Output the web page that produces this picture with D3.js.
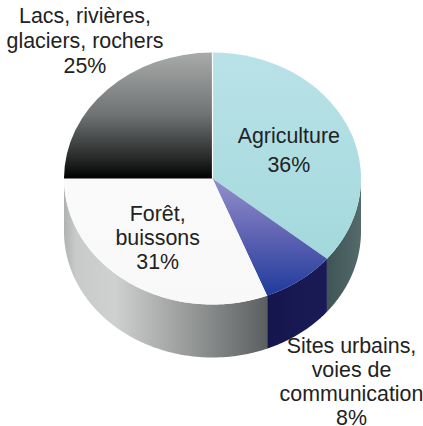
<!DOCTYPE html>
<html lang="fr">
<head>
<meta charset="utf-8">
<script src="https://cdn.jsdelivr.net/npm/d3@7"></script>
<style>
    body { margin: 0; background: #fff; }
    text { font-family: "Liberation Sans", Arial, sans-serif; font-size: 21.4px; fill: #222; text-anchor: middle; }
</style>
<title>Occupation des sols</title>
</head>
<body>
<svg id="plot" width="423" height="426"></svg>
<script>
// values, clockwise from the top
const categories = ["Agriculture", "Sites urbains, voies de communication", "Forêt, buissons", "Lacs, rivières, glaciers, rochers"]
const shares = [36, 8, 31, 25]

// label lines per category
const labelLines = [
    ["Agriculture", "36%"],
    ["Sites urbains,", "voies de", "communication", "8%"],
    ["Forêt,", "buissons", "31%"],
    ["Lacs, rivières,", "glaciers, rochers", "25%"]
]

const cx = 212.5, cy = 178.5, rx = 148.5, ry = 126, depth = 53
const svg = d3.select("#plot")
const defs = svg.append("defs")

function gradient(id, horizontal, stops) {
    const g = defs.append("linearGradient").attr("id", id)
        .attr("x1", 0).attr("y1", 0)
        .attr("x2", horizontal ? 1 : 0).attr("y2", horizontal ? 0 : 1)
    stops.forEach(s => g.append("stop").attr("offset", s[0]).attr("stop-color", s[1]))
}

// top faces
gradient("top0", false, [[0, "#b9e2e8"], [1, "#a3d9dc"]])
gradient("top1", false, [[0, "#9290cc"], [0.45, "#6366b4"], [1, "#1f3a9c"]])
gradient("top2", false, [[0, "#fafafa"], [1, "#f8f8f8"]])
gradient("top3", false, [[0, "#a9abab"], [0.5, "#6f7272"], [0.85, "#252727"], [1, "#000"]])
// side faces
gradient("side2", true, [[0, "#b0b1b1"], [0.06, "#c9caca"], [0.25, "#cfd0d0"], [0.6, "#9a9c9c"], [1, "#5c5f5f"]])
gradient("side1", true, [[0, "#16164e"], [1, "#1a1a56"]])
gradient("side0", true, [[0, "#3f5555"], [1, "#556a6a"]])

const pie = d3.pie().sort(null)
const slices = pie(shares)

const px = a => cx + rx * Math.sin(a)
const py = a => cy - ry * Math.cos(a)

// side wall, only for the front half of the disc
const wall = d3.area()
    .x(a => px(a))
    .y0(a => py(a))
    .y1(a => py(a) + depth)

slices.forEach((s, i) => {
    const a0 = Math.max(s.startAngle, Math.PI / 2)
    const a1 = Math.min(s.endAngle, 3 * Math.PI / 2)
    if (a1 <= a0) return
    const steps = d3.range(a0, a1, 0.01).concat([a1])
    svg.append("path")
        .attr("d", wall(steps))
        .attr("fill", "url(#side" + i + ")")
})

// top of the disc: unit circle pie squashed into an ellipse
const arc = d3.arc().innerRadius(0).outerRadius(1)
const topFace = svg.append("g")
    .attr("transform", `translate(${cx},${cy}) scale(${rx},${ry})`)

topFace.selectAll("path")
    .data(slices)
    .enter()
    .append("path")
    .attr("d", arc)
    .attr("fill", (d, i) => "url(#top" + i + ")")

// white gap between lacs and agriculture
svg.append("line")
    .attr("x1", cx).attr("x2", cx)
    .attr("y1", cy - ry).attr("y2", cy)
    .attr("stroke", "#fff").attr("stroke-width", 1.2)

// labels, x, first baseline and line gap
const labelPos = [[288.8, 143, 29], [351.5, 352.5, 24], [157.7, 221, 24], [85, 23, 24.8]]

labelLines.forEach((lines, i) => {
    const t = svg.append("text")
        .attr("x", labelPos[i][0])
        .attr("y", labelPos[i][1])
    lines.forEach((l, j) => {
        t.append("tspan")
            .attr("x", labelPos[i][0])
            .attr("dy", j ? labelPos[i][2] : 0)
            .text(l)
    })
})
</script>
</body>
</html>
